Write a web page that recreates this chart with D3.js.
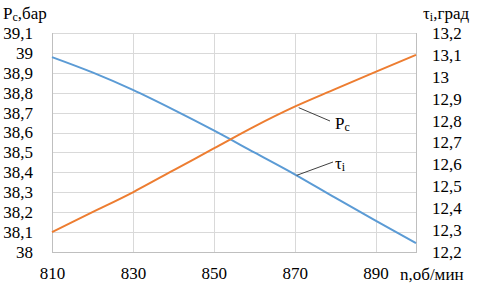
<!DOCTYPE html>
<html>
<head>
<meta charset="utf-8">
<script src="https://cdn.jsdelivr.net/npm/d3@7"></script>
</head>
<body style="margin:0">
<script>
// data
var nValues = [810, 820, 830, 840, 850, 860, 870, 880, 890, 900];
var pcValues = [38.10, 38.20, 38.30, 38.41, 38.52, 38.63, 38.73, 38.818, 38.905, 38.99];
var tauValues = [13.09, 13.02, 12.94, 12.85, 12.755, 12.655, 12.555, 12.448, 12.343, 12.24];

var nTicks = [810, 830, 850, 870, 890];
var pcTicks = [38, 38.1, 38.2, 38.3, 38.4, 38.5, 38.6, 38.7, 38.8, 38.9, 39, 39.1];
var tauTicks = [12.2, 12.3, 12.4, 12.5, 12.6, 12.7, 12.8, 12.9, 13, 13.1, 13.2];

var width = 479, height = 288;
var plot = {left: 52, right: 416, top: 33, bottom: 252};
var fontSize = 17;

var svg = d3.select('body').append('svg')
    .attr('width', width)
    .attr('height', height)
    .attr('font-family', 'Liberation Serif')
    .style('font-family', '"Liberation Serif"');

var x = d3.scaleLinear().domain([810, 900]).range([plot.left, plot.right]);
var yLeft = d3.scaleLinear().domain([38, 39.1]).range([plot.bottom, plot.top]);
var yRight = d3.scaleLinear().domain([12.2, 13.2]).range([plot.bottom, plot.top]);

var ru = d3.formatLocale({decimal: ',', thousands: ' ', grouping: [3], currency: ['', '']});
var fmt = ru.format('.3~g');

// gridlines
var grid = svg.append('g').attr('stroke', '#d9d9d9').attr('stroke-width', 1);
grid.selectAll('line.h')
    .data(pcTicks.slice(1))
    .enter().append('line')
    .attr('x1', plot.left).attr('x2', plot.right)
    .attr('y1', function(d) { return Math.round(yLeft(d)) + 0.5; })
    .attr('y2', function(d) { return Math.round(yLeft(d)) + 0.5; });
grid.selectAll('line.v')
    .data(nTicks.slice(1))
    .enter().append('line')
    .attr('y1', plot.top).attr('y2', plot.bottom)
    .attr('x1', function(d) { return Math.round(x(d)) + 0.5; })
    .attr('x2', function(d) { return Math.round(x(d)) + 0.5; });

// axis lines
var axisColor = '#bfbfbf';
svg.append('line').attr('stroke', axisColor)
    .attr('x1', plot.left + 0.5).attr('x2', plot.left + 0.5)
    .attr('y1', plot.top).attr('y2', plot.bottom + 0.5);
svg.append('line').attr('stroke', axisColor)
    .attr('x1', plot.right + 0.5).attr('x2', plot.right + 0.5)
    .attr('y1', plot.top).attr('y2', plot.bottom + 0.5);
svg.append('line').attr('stroke', axisColor)
    .attr('x1', plot.left).attr('x2', plot.right + 1)
    .attr('y1', plot.bottom + 0.5).attr('y2', plot.bottom + 0.5);

// axes (labels only)
var styleAxis = function(g) {
    g.attr('font-family', 'Liberation Serif').attr('font-size', fontSize);
    g.select('.domain').remove();
    g.selectAll('line').remove();
    g.selectAll('text')
        .style('font-family', '"Liberation Serif"')
        .style('font-size', fontSize + 'px')
        .attr('fill', '#000');
};

svg.append('g')
    .attr('transform', 'translate(' + plot.left + ',0)')
    .call(d3.axisLeft(yLeft).tickValues(pcTicks).tickFormat(fmt).tickSize(0).tickPadding(19))
    .call(styleAxis);

svg.append('g')
    .attr('transform', 'translate(' + plot.right + ',0)')
    .call(d3.axisRight(yRight).tickValues(tauTicks).tickFormat(fmt).tickSize(0).tickPadding(16))
    .call(styleAxis);

svg.append('g')
    .attr('transform', 'translate(0,' + plot.bottom + ')')
    .call(d3.axisBottom(x).tickValues(nTicks).tickFormat(d3.format('d')).tickSize(0).tickPadding(15))
    .call(styleAxis);

// series
var linePc = d3.line()
    .x(function(d, i) { return x(nValues[i]); })
    .y(function(d) { return yLeft(d); })
    .curve(d3.curveMonotoneX);
var lineTau = d3.line()
    .x(function(d, i) { return x(nValues[i]); })
    .y(function(d) { return yRight(d); })
    .curve(d3.curveMonotoneX);

svg.append('path').datum(tauValues)
    .attr('fill', 'none')
    .attr('stroke', '#5b9bd5')
    .attr('stroke-width', 2)
    .attr('d', lineTau);

svg.append('path').datum(pcValues)
    .attr('fill', 'none')
    .attr('stroke', '#ed7d31')
    .attr('stroke-width', 2)
    .attr('d', linePc);

// titles with subscripts
var label = function(xp, yp, main, sub, rest) {
    var t = svg.append('text')
        .attr('x', xp).attr('y', yp)
        .style('font-family', '"Liberation Serif"')
        .style('font-size', fontSize + 'px');
    t.append('tspan').text(main);
    t.append('tspan').style('font-size', Math.round(fontSize * 0.7) + 'px').attr('dy', 2).text(sub);
    if (rest) t.append('tspan').attr('dy', -2).text(rest);
    return t;
};

label(3, 19, 'P', 'c', ',бар');
label(423, 19, 'τ', 'i', ',град');
svg.append('text').attr('x', 400).attr('y', 280)
    .style('font-family', '"Liberation Serif"')
    .style('font-size', fontSize + 'px')
    .text('n,об/мин');

// callouts
var callout = svg.append('g').attr('stroke', '#404040').attr('stroke-width', 1);
callout.append('line')
    .attr('x1', x(871)).attr('y1', yLeft(38.73) + 1)
    .attr('x2', 330).attr('y2', 121);
callout.append('line')
    .attr('x1', x(870.5)).attr('y1', yRight(12.55))
    .attr('x2', 333).attr('y2', 162);

label(335, 129, 'P', 'c', null);
label(335, 169, 'τ', 'i', null);
</script>
</body>
</html>
